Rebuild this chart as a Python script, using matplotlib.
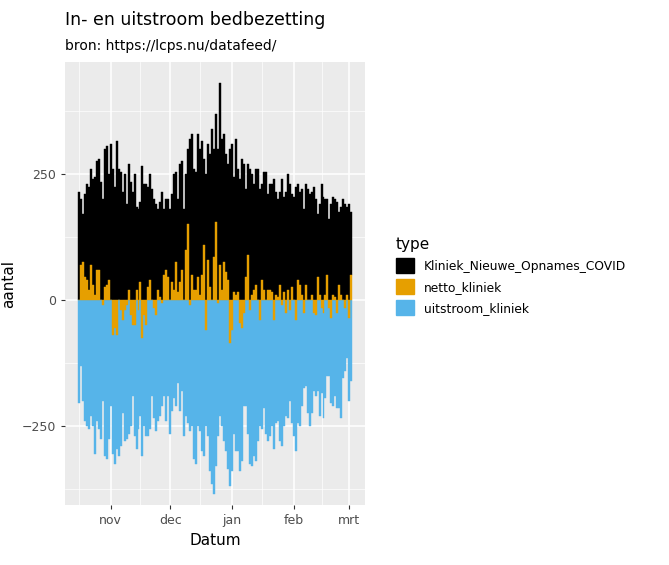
import numpy as np
import matplotlib.pyplot as plt
import matplotlib.dates as mdates
from matplotlib.patches import Patch

start = np.datetime64('2020-10-16')

# top of the positive stack (approx. new admissions incl. netto)
top_pos = [215, 200, 170, 210, 230, 225, 260,
           240, 245, 275, 280, 235, 200, 300,
           305, 250, 310, 260, 225, 315, 260,
           255, 215, 250, 190, 270, 235, 215,
           250, 185, 180, 195, 265, 230, 230,
           225, 250, 220, 200, 190, 180, 195,
           215, 180, 200, 200, 180, 210, 250,
           255, 200, 270, 275, 180, 250, 300,
           320, 330, 260, 255, 330, 300, 315,
           280, 250, 310, 290, 340, 300, 370,
           300, 430, 320, 330, 290, 270, 300,
           310, 245, 320, 260, 240, 280, 270,
           220, 270, 260, 250, 230, 260, 260,
           220, 230, 255, 255, 210, 230, 230,
           240, 215, 200, 215, 240, 205, 215,
           250, 230, 210, 205, 225, 230, 215,
           220, 180, 230, 220, 210, 215, 225,
           200, 170, 190, 230, 205, 200, 200,
           160, 190, 205, 200, 195, 175, 185,
           200, 190, 185, 190, 175]

netto = [0, 70, 75, 45, 40, 20, 70,
         30, 10, 60, 60, 0, -10, 25,
         30, 40, 0, -70, -55, -70, 0,
         -20, -40, -20, -10, 20, -30, -50,
         -50, 20, -20, 35, -75, -30, -50,
         25, 40, 0, -15, -30, 20, 5,
         -5, 50, 60, 45, 0, 35, 20,
         75, 15, 35, 60, 0, 100, 150,
         -10, 50, 20, 20, 45, 10, 50,
         110, -60, 80, 25, 0, 85, 155,
         -5, 70, 20, 75, 55, 40, -85,
         -60, 15, 10, 15, -45, -55, -25,
         45, 90, -20, 10, 20, 30, 0,
         -40, 40, 20, 0, 20, 20, 15,
         -40, 10, 5, 30, -10, 15, -25,
         20, -20, 25, 0, -40, 40, 30,
         10, -25, 30, 0, 0, 10, -25,
         -30, 45, 10, -15, -25, 10, 50,
         -15, -35, 10, 5, -25, 30, 10,
         0, -15, 10, -35, 50]

bottom_neg = [-205, -130, -200, -240, -250, -255, -230,
              -250, -305, -240, -255, -275, -200, -310,
              -315, -275, -210, -305, -325, -295, -310,
              -290, -225, -280, -275, -265, -250, -190,
              -270, -295, -255, -230, -310, -250, -270,
              -270, -255, -190, -235, -260, -240, -230,
              -210, -190, -240, -190, -265, -220, -195,
              -210, -165, -220, -180, -270, -230, -245,
              -260, -250, -315, -325, -250, -260, -300,
              -310, -250, -270, -340, -365, -385, -330,
              -270, -230, -250, -280, -300, -335, -370,
              -340, -265, -300, -300, -340, -320, -210,
              -210, -265, -325, -330, -310, -320, -280,
              -250, -255, -215, -265, -280, -270, -250,
              -295, -245, -240, -280, -290, -250, -230,
              -235, -200, -245, -270, -300, -245, -250,
              -210, -175, -170, -225, -250, -225, -180,
              -190, -180, -230, -185, -235, -195, -150,
              -150, -205, -210, -190, -215, -215, -235,
              -155, -140, -115, -200, -160]

dates = start + np.arange(len(top_pos))
x = mdates.date2num(dates.astype('datetime64[D]').astype(object))
top_pos = np.array(top_pos, float)
netto = np.array(netto, float)
bottom_neg = np.array(bottom_neg, float)

c_black, c_orange, c_blue = '#000000', '#E69F00', '#56B4E9'

fig = plt.figure(figsize=(6.69, 5.65), dpi=100)
ax = fig.add_axes([0.097, 0.106, 0.449, 0.784])
ax.set_facecolor('#EBEBEB')

w = 1.0
pos_base = np.maximum(netto, 0)
neg_base = np.minimum(netto, 0)
ax.bar(x, top_pos - pos_base, bottom=pos_base, width=w, color=c_black,
       edgecolor=c_black, linewidth=0.3, zorder=3)
ax.bar(x, netto, width=w, color=c_orange, edgecolor=c_orange, linewidth=0.3, zorder=4)
ax.bar(x, bottom_neg - neg_base, bottom=neg_base, width=w, color=c_blue,
       edgecolor=c_blue, linewidth=0.3, zorder=3)

ax.set_xlim(mdates.datestr2num('2020-10-09'), mdates.datestr2num('2021-03-09'))
ax.set_ylim(-407, 472)
ax.set_yticks([-250, 0, 250])
ax.set_yticks([-375, -125, 125, 375], minor=True)
ticks = ['2020-11-01', '2020-12-01', '2021-01-01', '2021-02-01', '2021-03-01']
ax.set_xticks([mdates.datestr2num(t) for t in ticks])
ax.set_xticklabels(['nov', 'dec', 'jan', 'feb', 'mrt'])
ax.set_xticks([mdates.datestr2num(t) for t in ['2020-10-16', '2020-11-16', '2020-12-16', '2021-01-16', '2021-02-15']], minor=True)
ax.grid(True, which='major', color='white', linewidth=1.1, zorder=0)
ax.grid(True, which='minor', color='white', linewidth=0.5, zorder=0)
ax.set_axisbelow(True)
for s in ax.spines.values():
    s.set_visible(False)
ax.tick_params(which='major', length=3, color='#333333', labelcolor='#4D4D4D', labelsize=9)
ax.tick_params(which='minor', length=0)
ax.set_xlabel('Datum', fontsize=11)
ax.set_ylabel('aantal', fontsize=11)

fig.text(0.097, 0.955, 'In- en uitstroom bedbezetting', fontsize=12.5)
fig.text(0.097, 0.912, 'bron: https://lcps.nu/datafeed/', fontsize=10)

handles = [Patch(color=c_black), Patch(color=c_orange), Patch(color=c_blue)]
fig.legend(handles, ['Kliniek_Nieuwe_Opnames_COVID', 'netto_kliniek', 'uitstroom_kliniek'],
           title='type', loc='upper left', bbox_to_anchor=(0.575, 0.6), frameon=False,
           fontsize=8.8, title_fontsize=11, handlelength=1.5, handleheight=1.5, alignment='left')

fig.savefig('out.png', dpi=100)
